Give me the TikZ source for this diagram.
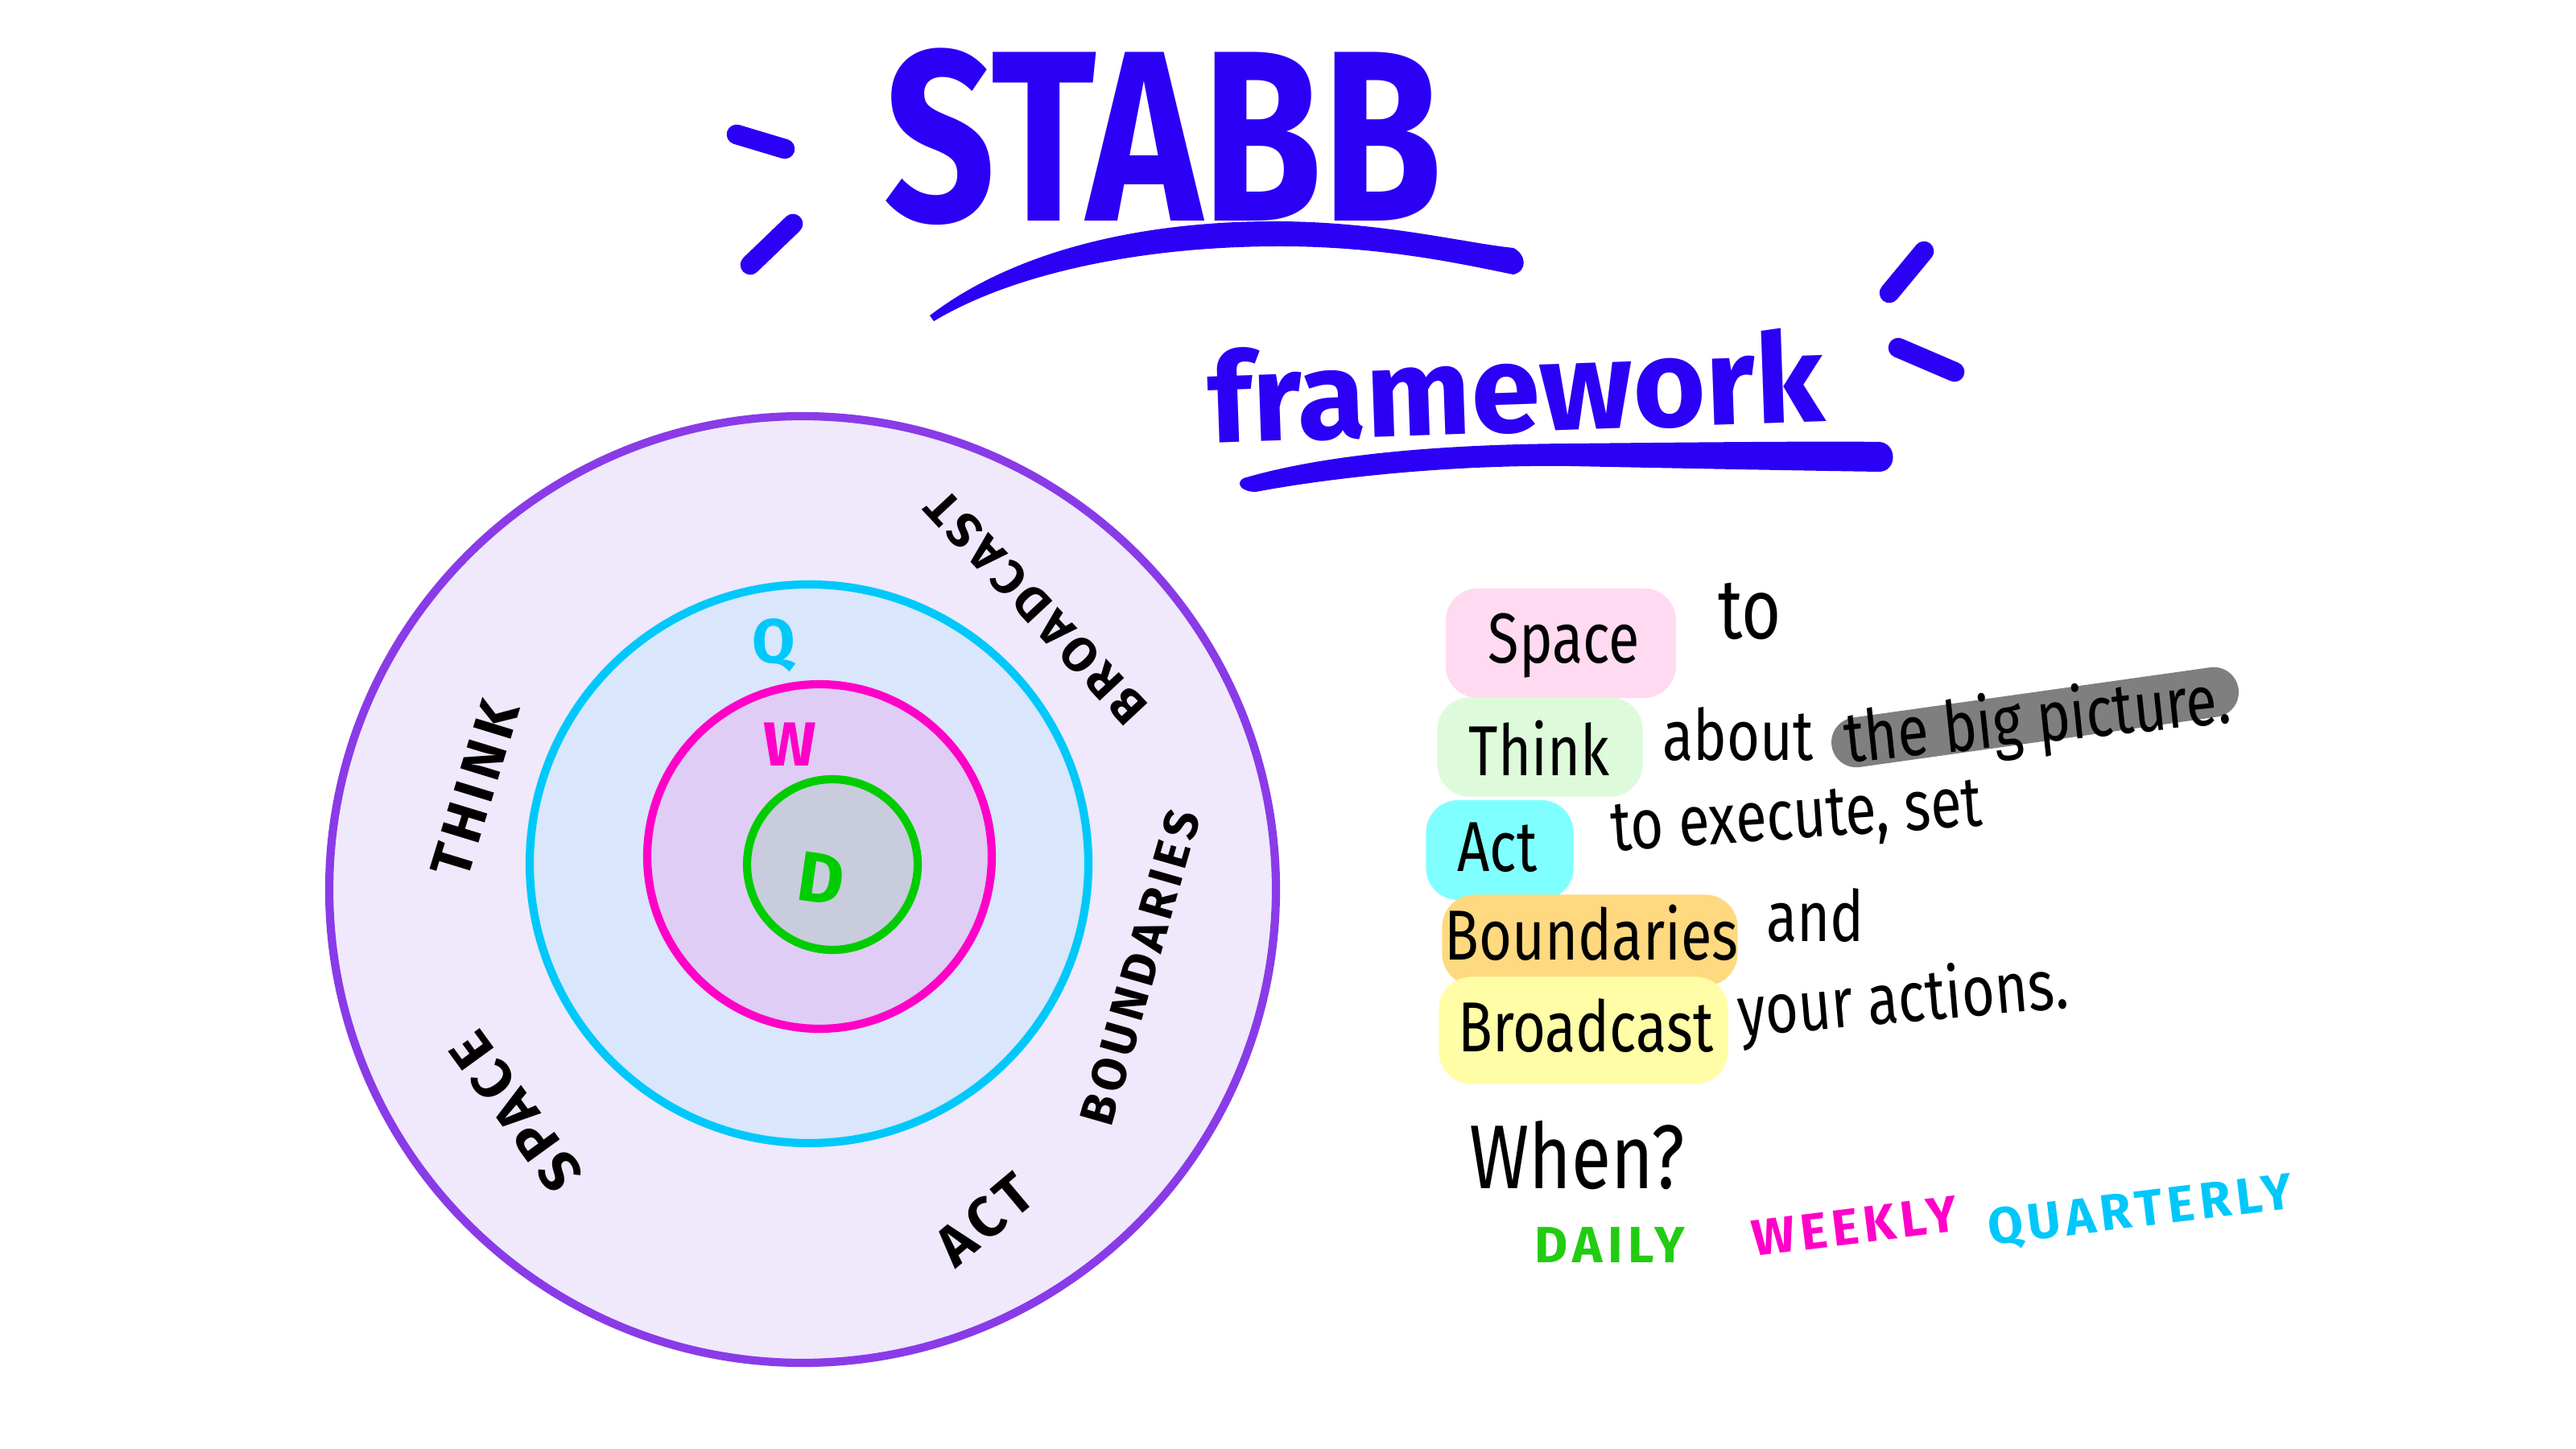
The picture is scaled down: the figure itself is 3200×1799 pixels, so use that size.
\documentclass[tikz,border=0pt]{standalone}
\usepackage{fontspec}
\setmainfont{Fira Sans}
\newfontfamily\hand[FakeStretch=0.8]{Fira Sans}
\newfontfamily\capsf[LetterSpace=10]{Fira Sans}
\newfontfamily\titlef[FakeStretch=0.8]{Fira Sans}
\definecolor{ringpurple}{HTML}{8A3BE8}
\definecolor{fillpurple}{HTML}{F0E8FB}
\definecolor{ringcyan}{HTML}{00C8FA}
\definecolor{fillcyan}{HTML}{D9E6FB}
\definecolor{ringmag}{HTML}{FF00C8}
\definecolor{fillmag}{HTML}{DFCDF5}
\definecolor{ringgreen}{HTML}{00CC00}
\definecolor{fillgreen}{HTML}{C8CCDD}
\definecolor{titleblue}{HTML}{2B00F5}
\definecolor{hlpink}{HTML}{FFDAF0}
\definecolor{hlgreen}{HTML}{DDFBDA}
\definecolor{hlcyan}{HTML}{7FFFFF}
\definecolor{hlorange}{HTML}{FFD97F}
\definecolor{hlyellow}{HTML}{FFFEA6}
\definecolor{hlgray}{HTML}{7F7F7F}
\definecolor{dailygreen}{HTML}{22CC11}
\tikzset{
  ring/.style={line width=2.9pt},
  body/.style={font=\hand\fontsize{25}{28}\selectfont, text=black, inner sep=0pt},
  ringlbl/.style={font=\capsf\bfseries\fontsize{18}{20}\selectfont, text=black, inner sep=0pt},
  letter/.style={font=\bfseries\fontsize{22}{24}\selectfont, inner sep=0pt},
  hl/.style={rounded corners=0.4cm, inner sep=0pt},
  freq/.style={font=\capsf\bfseries\fontsize{18}{22}\selectfont, inner sep=0pt},
  flick/.style={line width=7pt, line cap=round, titleblue},
}
\begin{document}
\begin{tikzpicture}[x=0.01cm,y=0.01cm]
\useasboundingbox[fill=white] (0,0) rectangle (3200,1799);

% ---------- title ----------
\node[font=\titlef\bfseries\fontsize{86}{90}\selectfont, text=titleblue, inner sep=0pt] (stabb) at (1445,1629) {STABB};
\fill[titleblue] (1155,1407) .. controls (1250,1480) and (1400,1525) .. (1590,1524)
  .. controls (1720,1523) and (1820,1497) .. (1880,1491)
  .. controls (1897,1482) and (1897,1462) .. (1880,1458)
  .. controls (1820,1470) and (1720,1493) .. (1590,1493)
  .. controls (1420,1493) and (1260,1460) .. (1160,1400) -- cycle;
\node[font=\bfseries\fontsize{44}{48}\selectfont, text=titleblue, inner sep=0pt, anchor=base, rotate=2] (fw) at (1885,1262) {framework};
\fill[titleblue] (1545,1205) .. controls (1650,1236) and (1800,1247) .. (1950,1248)
  .. controls (2150,1250) and (2280,1251) .. (2335,1250)
  .. controls (2357,1248) and (2357,1214) .. (2335,1213)
  .. controls (2200,1215) and (2050,1218) .. (1950,1220)
  .. controls (1800,1222) and (1650,1205) .. (1560,1188)
  .. controls (1540,1188) and (1535,1200) .. (1545,1205) -- cycle;
\coordinate (d1a) at (915,1632); \coordinate (d1b) at (975,1614);
\coordinate (d2a) at (985,1521); \coordinate (d2b) at (932,1470);
\coordinate (d3a) at (2390,1487); \coordinate (d3b) at (2347,1435);
\coordinate (d4a) at (2358,1367); \coordinate (d4b) at (2428,1337);
\draw[flick] (d1a) -- (d1b);
\draw[flick] (d2a) -- (d2b);
\draw[flick] (d3a) -- (d3b);
\draw[flick] (d4a) -- (d4b);

% ---------- circles ----------
\draw[ring, draw=ringpurple, fill=fillpurple] (997,694) circle (588);
\draw[ring, draw=ringcyan, fill=fillcyan] (1005,726) circle (347);
\draw[ring, draw=ringmag, fill=fillmag] (1018,735) circle (214);
\draw[ring, draw=ringgreen, fill=fillgreen] (1034,725) circle (106);

\node[letter, text=ringcyan] (q) at (961,997) {Q};
\node[letter, text=ringmag] (w) at (981,874) {W};
\node[letter, text=ringgreen, font=\bfseries\fontsize{25}{27}\selectfont, rotate=-8] (d) at (1020,708) {D};

\node[ringlbl, rotate=73, font=\capsf\bfseries\fontsize{20}{22}\selectfont] (think) at (590,819) {THINK};
\node[ringlbl, rotate=126, font=\capsf\bfseries\fontsize{20}{22}\selectfont] (space) at (641,418) {SPACE};
\node[ringlbl, rotate=133, font=\capsf\bfseries\fontsize{17}{20}\selectfont] (broadcast) at (1287,1044) {BROADCAST};
\node[ringlbl, rotate=74, font=\capsf\bfseries\fontsize{17}{20}\selectfont] (boundaries) at (1416,597) {BOUNDARIES};
\node[ringlbl, rotate=40, font=\capsf\bfseries\fontsize{20}{22}\selectfont] (act) at (1223,284) {ACT};

% ---------- highlights ----------
\node[hl, fill=hlpink, minimum width=2.86cm, minimum height=1.36cm] (hlspace) at (1939,1000) {};
\node[hl, fill=hlgreen, minimum width=2.55cm, minimum height=1.23cm] (hlthink) at (1913,871) {};
\node[hl, fill=hlcyan, minimum width=1.83cm, minimum height=1.24cm] (hlact) at (1863,743) {};
\node[hl, fill=hlorange, minimum width=3.67cm, minimum height=1.13cm] (hlbound) at (1975,631) {};
\node[hl, fill=hlyellow, minimum width=3.59cm, minimum height=1.33cm] (hlbroad) at (1967,519) {};
\node[fill=hlgray, rounded corners=0.31cm, minimum width=5.1cm, minimum height=0.62cm, inner sep=0pt, rotate=8] (hlbig) at (2528,908) {};

% ---------- text ----------
\node[body] (tspace) at (1943,997) {Space};
\node[body, font=\hand\fontsize{30}{32}\selectfont] (tto) at (2174,1040) {to};
\node[body] (tthink) at (1912,870) {Think};
\node[body] (tabout) at (2159,887) {about};
\node[body, rotate=6] (tbig) at (2531,901) {the big picture.};
\node[body] (tact) at (1860,746) {Act};
\node[body, rotate=4] (texec) at (2232,779) {to execute, set};
\node[body] (tbound) at (1977,640) {Boundaries};
\node[body] (tand) at (2255,662) {and};
\node[body] (tbroad) at (1970,525) {Broadcast};
\node[body, rotate=5] (tyour) at (2364,554) {your actions.};

\node[font=\hand\fontsize{32}{36}\selectfont, inner sep=0pt] (when) at (1959,364) {When?};
\node[freq, text=dailygreen] (daily) at (2000,252) {DAILY};
\node[freq, text=ringmag, rotate=7] (weekly) at (2304,276) {WEEKLY};
\node[freq, text=ringcyan, rotate=7] (quarterly) at (2659,293) {QUARTERLY};
\end{tikzpicture}
\end{document}
